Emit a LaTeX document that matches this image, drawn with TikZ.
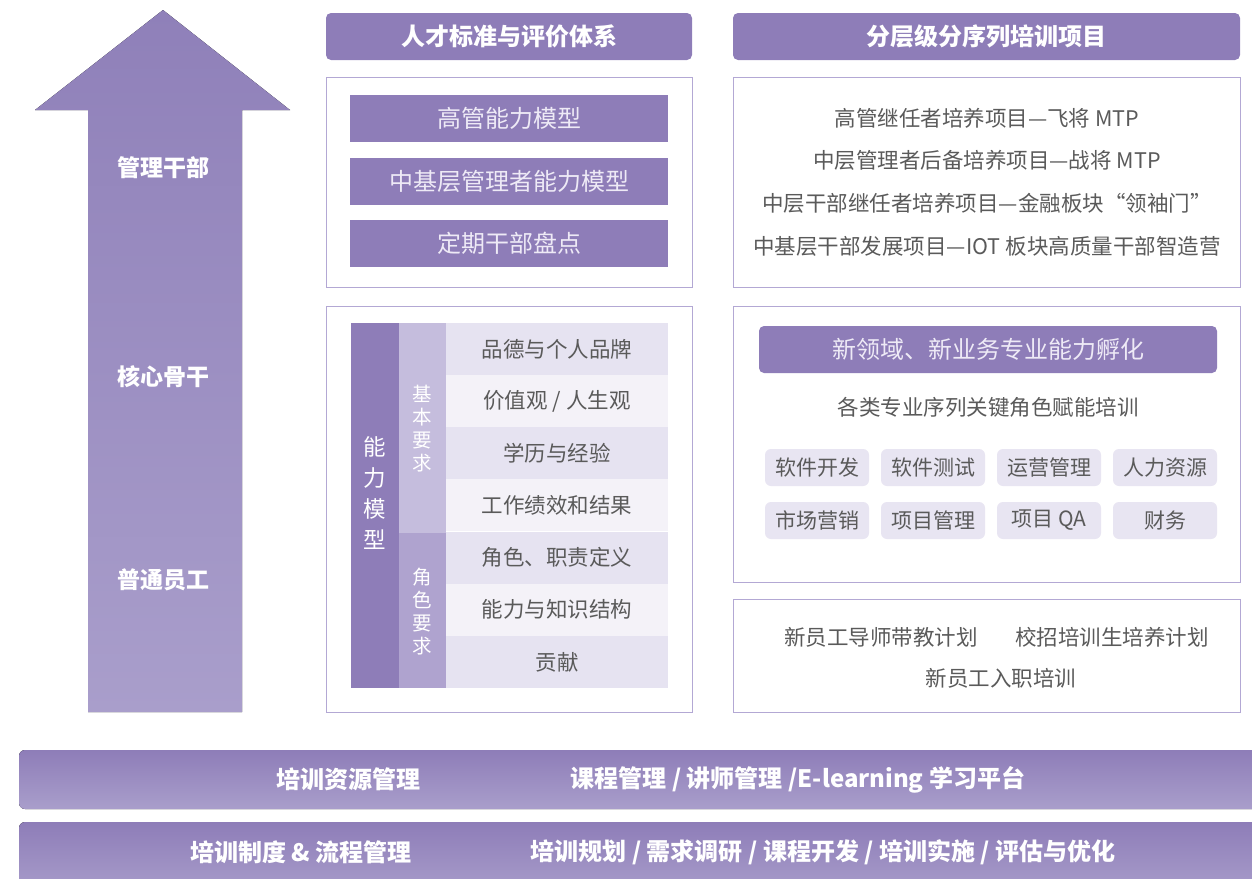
\documentclass[tikz,border=0pt]{standalone}
\usepackage{fontspec}
\setmainfont{Noto Sans CJK SC}
\usetikzlibrary{positioning}
\definecolor{tpPurple}{HTML}{8E7DB8}
\definecolor{tpArrowTop}{HTML}{8F80B9}
\definecolor{tpArrowBot}{HTML}{A99ECB}
\definecolor{tpFrame}{HTML}{B3A8D4}
\definecolor{tpGray}{HTML}{5A5A5A}
\definecolor{tpLight}{HTML}{EEEAF6}
\definecolor{tpBasic}{HTML}{C5BDDD}
\definecolor{tpRole}{HTML}{AFA3CF}
\definecolor{tpRowA}{HTML}{E6E3F1}
\definecolor{tpRowB}{HTML}{F4F2F8}
\definecolor{tpChip}{HTML}{E8E5F2}

\begin{document}
\begin{tikzpicture}[x=1pt, y=-1pt,
  hdr/.style={rounded corners=5pt, fill=tpPurple, text=white, minimum height=47pt,
              font=\fontsize{24}{28}\selectfont\bfseries},
  frame/.style={draw=tpFrame, line width=0.8pt, fill=white},
  bar/.style={fill=tpPurple, text=tpLight, minimum width=318pt, minimum height=47pt,
              font=\fontsize{24}{28}\selectfont},
  row/.style={minimum width=222pt, minimum height=52pt, inner sep=0pt, text=tpGray,
              font=\fontsize{21.5}{25}\selectfont},
  chip/.style={rounded corners=6pt, fill=tpChip, text=tpGray, minimum width=104pt,
               minimum height=37pt, inner sep=0pt, font=\fontsize{21}{25}\selectfont},
  line/.style={text=tpGray, font=\fontsize{21.5}{25}\selectfont},
  level/.style={text=white, font=\fontsize{23}{27}\selectfont\bfseries},
  base/.style={text=white, font=\fontsize{24}{28}\selectfont\bfseries},
]
  \useasboundingbox (0,0) rectangle (1252,878);

  % rising arrow
  \fill[top color=tpArrowTop, bottom color=tpArrowBot]
    (163,10) -- (290,110) -- (242,110) -- (242,712) -- (88,712) -- (88,110) -- (35,110) -- cycle;
  \node[level] (mgr)  at (163,168) {管理干部};
  \node[level] (core) at (163,377) {核心骨干};
  \node[level] (staff) at (163,580) {普通员工};

  % headers
  \node[hdr, minimum width=366pt] (hdrL) at (509,36.5) {人才标准与评价体系};
  \node[hdr, minimum width=507pt] (hdrR) at (986.5,36.5) {分层级分序列培训项目};

  % frames
  \draw[frame] (326,77) rectangle (692,287);
  \draw[frame] (733,77) rectangle (1240,287);
  \draw[frame] (326,306) rectangle (692,712);
  \draw[frame] (733,306) rectangle (1240,582);
  \draw[frame] (733,599) rectangle (1240,712);

  % leader models
  \node[bar] (exec) at (509,118.5) {高管能力模型};
  \node[bar] (mid)  at (509,181.5) {中基层管理者能力模型};
  \node[bar] (rev)  at (509,243.5) {定期干部盘点};

  % leader programmes
  \node[line] (p1) at (987,118) {高管继任者培养项目—飞将 MTP};
  \node[line] (p2) at (987,160) {中层管理者后备培养项目—战将 MTP};
  \node[line] (p3) at (987,203) {中层干部继任者培养项目—金融板块“领袖门”};
  \node[line] (p4) at (987,246) {中基层干部发展项目—IOT 板块高质量干部智造营};

  % competency model
  \fill[tpPurple] (351,323) rectangle (399,688);
  \fill[tpBasic] (399,323) rectangle (446,533);
  \fill[tpRole] (399,533) rectangle (446,688);
  \node[text=white, align=center, font=\fontsize{22.5}{31}\selectfont] (cm) at (375,493) {能\\力\\模\\型};
  \node[text=white, align=center, font=\fontsize{19.5}{23}\selectfont] (basic) at (422.5,429) {基\\本\\要\\求};
  \node[text=white, align=center, font=\fontsize{19.5}{23}\selectfont] (role) at (422.5,612) {角\\色\\要\\求};
  \foreach \t [count=\i] in {品德与个人品牌, 价值观 / 人生观, 学历与经验, 工作绩效和结果,
                            角色、职责定义, 能力与知识结构, 贡献} {
    \pgfmathsetmacro{\ry}{323 + (\i-0.5)*52.14}
    \ifodd\i \def\rc{tpRowA}\else \def\rc{tpRowB}\fi
    \node[row, fill=\rc] (r\i) at (557,\ry) {\t};
  }

  % professional sequences
  \node[hdr, minimum width=458pt, text=tpLight, font=\fontsize{24}{28}\selectfont] (newbiz) at (988,349.5) {新领域、新业务专业能力孵化};
  \node[line] (seq) at (988,407) {各类专业序列关键角色赋能培训};
  \foreach \t [count=\i] in {软件开发, 软件测试, 运营管理, 人力资源,
                            市场营销, 项目管理, 项目 QA, 财务} {
    \pgfmathsetmacro{\cx}{817 + mod(\i-1,4)*116}
    \pgfmathsetmacro{\cy}{467.5 + floor((\i-1)/4)*53}
    \node[chip] (c\i) at (\cx,\cy) {\t};
  }

  % new staff
  \node[line] (mentor) at (881,637) {新员工导师带教计划};
  \node[line] (campus) at (1112,637) {校招培训生培养计划};
  \node[line] (onboard) at (1001,678) {新员工入职培训};

  % foundation bars
  \fill[top color=tpPurple, bottom color=tpArrowBot, rounded corners=6pt]
    (1270,750) -- (19,750) -- (19,809) -- (1270,809) -- cycle;
  \fill[top color=tpPurple, bottom color=tpArrowBot, rounded corners=6pt]
    (1270,822) -- (19,822) -- (19,895) -- (1270,895) -- cycle;
  \node[base] (resL) at (348,779.5) {培训资源管理};
  \node[base] (resR) at (798,779.5) {课程管理 / 讲师管理 /E-learning 学习平台};
  \node[base] (sysL) at (301,852) {培训制度 \& 流程管理};
  \node[base] (sysR) at (823,852) {培训规划 / 需求调研 / 课程开发 / 培训实施 / 评估与优化};
\end{tikzpicture}
\end{document}
